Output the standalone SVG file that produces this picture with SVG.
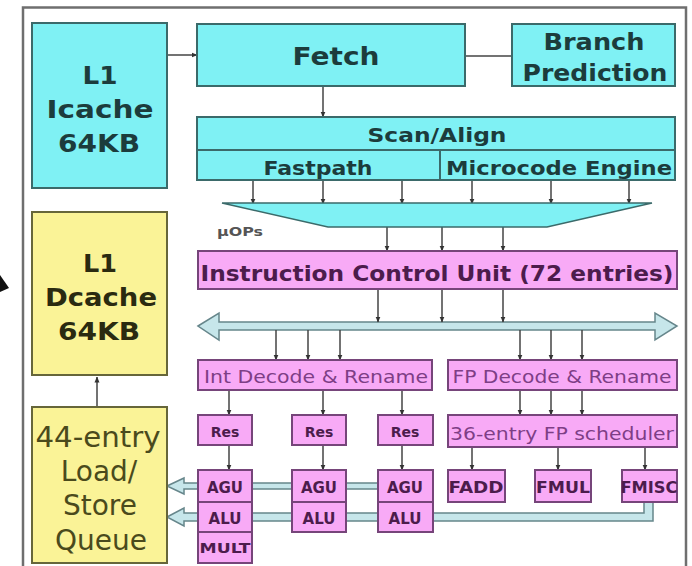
<svg xmlns="http://www.w3.org/2000/svg" width="692" height="566" viewBox="0 0 692 566">
<defs>
<marker id="ah" markerWidth="6" markerHeight="6" refX="5.5" refY="3" orient="auto" markerUnits="userSpaceOnUse">
<path d="M0,0.5 L6,3 L0,5.5 z" fill="#333"/>
</marker>
<style>
.cy{fill:#7ff1f4;stroke:#3b6a6a;stroke-width:2}
.ye{fill:#faf397;stroke:#66663a;stroke-width:2}
.pk{fill:#f8aaf6;stroke:#76457a;stroke-width:2}
.bus{fill:#c6e6ea;stroke:#66868b;stroke-width:1.5}
.ln{stroke:#444;stroke-width:1.5;fill:none}
.ar{stroke:#444;stroke-width:1.5;fill:none;marker-end:url(#ah)}
text{font-family:"DejaVu Sans","Liberation Sans",sans-serif;text-anchor:middle}
.tc{fill:#1c3c3c;font-weight:bold}
.ty{fill:#2a2a10;font-weight:bold}
.tq{fill:#4a4a1c;font-size:28px}
.tp{fill:#4c1c4c;font-weight:bold}
.tn{fill:#7e3e86;font-size:18px}
</style>
</defs>
<rect x="0" y="0" width="692" height="566" fill="#fff"/>
<path d="M23,566 V7.5 H686 V566" fill="none" stroke="#6f6f6f" stroke-width="2.5"/>
<polygon points="0,275 9,288 0,292" fill="#111"/>

<g id="buses">
<polygon class="bus" points="198,326 219,313 219,322 655,322 655,313 677,326 655,340 655,330 219,330 219,340"/>
<polygon class="bus" points="167,486 184,478 184,483 380,483 380,489 184,489 184,494"/>
<polygon class="bus" points="167,517 184,508 184,513 644,513 644,502 653,502 653,521 184,521 184,526"/>
</g>

<g id="connectors">
<line class="ar" x1="167" y1="55" x2="197" y2="55"/>
<line class="ln" x1="465" y1="56" x2="512" y2="56"/>
<line class="ar" x1="323" y1="86" x2="323" y2="117"/>
<line class="ar" x1="253" y1="180" x2="253" y2="204"/>
<line class="ar" x1="323" y1="180" x2="323" y2="204"/>
<line class="ar" x1="402" y1="180" x2="402" y2="204"/>
<line class="ar" x1="472" y1="180" x2="472" y2="204"/>
<line class="ar" x1="551" y1="180" x2="551" y2="204"/>
<line class="ar" x1="629" y1="180" x2="629" y2="204"/>
<line class="ar" x1="387" y1="227" x2="387" y2="251"/>
<line class="ar" x1="442" y1="227" x2="442" y2="251"/>
<line class="ar" x1="503" y1="227" x2="503" y2="251"/>
<line class="ar" x1="378" y1="289" x2="378" y2="322"/>
<line class="ar" x1="442" y1="289" x2="442" y2="322"/>
<line class="ar" x1="503" y1="289" x2="503" y2="322"/>
<line class="ar" x1="276" y1="330" x2="276" y2="360"/>
<line class="ar" x1="308" y1="330" x2="308" y2="360"/>
<line class="ar" x1="340" y1="330" x2="340" y2="360"/>
<line class="ar" x1="520" y1="330" x2="520" y2="360"/>
<line class="ar" x1="551" y1="330" x2="551" y2="360"/>
<line class="ar" x1="582" y1="330" x2="582" y2="360"/>
<line class="ar" x1="229" y1="390" x2="229" y2="415"/>
<line class="ar" x1="323" y1="390" x2="323" y2="415"/>
<line class="ar" x1="402" y1="390" x2="402" y2="415"/>
<line class="ar" x1="520" y1="390" x2="520" y2="415"/>
<line class="ar" x1="551" y1="390" x2="551" y2="415"/>
<line class="ar" x1="582" y1="390" x2="582" y2="415"/>
<line class="ar" x1="229" y1="445" x2="229" y2="470"/>
<line class="ar" x1="323" y1="445" x2="323" y2="470"/>
<line class="ar" x1="402" y1="445" x2="402" y2="470"/>
<line class="ar" x1="472" y1="447" x2="472" y2="470"/>
<line class="ar" x1="558" y1="447" x2="558" y2="470"/>
<line class="ar" x1="645" y1="447" x2="645" y2="470"/>
<line class="ar" x1="97" y1="407" x2="97" y2="377"/>
</g>

<g id="icache">
<rect class="cy" x="32" y="23" width="135" height="165"/>
<text class="tc" x="100" y="84" font-size="25" textLength="35" lengthAdjust="spacingAndGlyphs">L1</text>
<text class="tc" x="100" y="118" font-size="25" textLength="107" lengthAdjust="spacingAndGlyphs">Icache</text>
<text class="tc" x="99" y="152" font-size="25" textLength="82" lengthAdjust="spacingAndGlyphs">64KB</text>
</g>
<g id="fetch">
<rect class="cy" x="197" y="24" width="268" height="62"/>
<text class="tc" x="336" y="65" font-size="24" textLength="87" lengthAdjust="spacingAndGlyphs">Fetch</text>
</g>
<g id="branch">
<rect class="cy" x="512" y="24" width="163" height="62"/>
<text class="tc" x="594" y="50" font-size="23" textLength="101" lengthAdjust="spacingAndGlyphs">Branch</text>
<text class="tc" x="595" y="81" font-size="23" textLength="145" lengthAdjust="spacingAndGlyphs">Prediction</text>
</g>
<g id="scanalign">
<rect class="cy" x="197" y="117" width="478" height="33"/>
<text class="tc" x="437" y="142" font-size="20" textLength="139" lengthAdjust="spacingAndGlyphs">Scan/Align</text>
</g>
<g id="fastpath">
<rect class="cy" x="197" y="150" width="243" height="30"/>
<text class="tc" x="318" y="175" font-size="20" textLength="109" lengthAdjust="spacingAndGlyphs">Fastpath</text>
</g>
<g id="microcode">
<rect class="cy" x="440" y="150" width="235" height="30"/>
<text class="tc" x="559" y="175" font-size="20" textLength="226" lengthAdjust="spacingAndGlyphs">Microcode Engine</text>
</g>
<g id="uops">
<polygon points="222,203 652,203 547,227 328,227" fill="#7ff1f4" stroke="#3b6a6a" stroke-width="1.5"/>
<text x="240" y="236" font-size="12" font-weight="bold" fill="#555" textLength="46" lengthAdjust="spacingAndGlyphs">μOPs</text>
</g>
<g id="dcache">
<rect class="ye" x="32" y="212" width="135" height="163"/>
<text class="ty" x="100" y="272" font-size="25" textLength="34" lengthAdjust="spacingAndGlyphs">L1</text>
<text class="ty" x="101" y="306" font-size="25" textLength="112" lengthAdjust="spacingAndGlyphs">Dcache</text>
<text class="ty" x="99" y="340" font-size="25" textLength="82" lengthAdjust="spacingAndGlyphs">64KB</text>
</g>
<g id="icu">
<rect class="pk" x="198" y="251" width="479" height="38"/>
<text class="tp" x="437" y="281" font-size="22" textLength="473" lengthAdjust="spacingAndGlyphs">Instruction Control Unit (72 entries)</text>
</g>
<g id="intdecode">
<rect class="pk" x="198" y="360" width="234" height="30"/>
<text class="tn" x="316" y="383" textLength="224" lengthAdjust="spacingAndGlyphs">Int Decode &amp; Rename</text>
</g>
<g id="fpdecode">
<rect class="pk" x="448" y="360" width="229" height="30"/>
<text class="tn" x="562" y="383" textLength="219" lengthAdjust="spacingAndGlyphs">FP Decode &amp; Rename</text>
</g>
<g id="res1">
<rect class="pk" x="198" y="415" width="54" height="30"/>
<text class="tp" x="225" y="437" font-size="14">Res</text>
</g>
<g id="res2">
<rect class="pk" x="292" y="415" width="54" height="30"/>
<text class="tp" x="319" y="437" font-size="14">Res</text>
</g>
<g id="res3">
<rect class="pk" x="378" y="415" width="55" height="30"/>
<text class="tp" x="405" y="437" font-size="14">Res</text>
</g>
<g id="fpsched">
<rect class="pk" x="448" y="415" width="229" height="32"/>
<text class="tn" x="562" y="440" textLength="224" lengthAdjust="spacingAndGlyphs">36-entry FP scheduler</text>
</g>
<g id="lsq">
<rect class="ye" x="32" y="407" width="135" height="156"/>
<text class="tq" x="98" y="447" textLength="125" lengthAdjust="spacingAndGlyphs">44-entry</text>
<text class="tq" x="99" y="481">Load/</text>
<text class="tq" x="100" y="515">Store</text>
<text class="tq" x="101" y="550">Queue</text>
</g>
<g id="exec1">
<rect class="pk" x="198" y="470" width="54" height="32"/>
<text class="tp" x="225" y="493" font-size="15">AGU</text>
<rect class="pk" x="198" y="502" width="54" height="30"/>
<text class="tp" x="225" y="524" font-size="15">ALU</text>
<rect class="pk" x="198" y="532" width="54" height="31"/>
<text class="tp" x="225" y="553" font-size="14" textLength="51" lengthAdjust="spacingAndGlyphs">MULT</text>
</g>
<g id="exec2">
<rect class="pk" x="292" y="470" width="54" height="32"/>
<text class="tp" x="319" y="493" font-size="15">AGU</text>
<rect class="pk" x="292" y="502" width="54" height="30"/>
<text class="tp" x="319" y="524" font-size="15">ALU</text>
</g>
<g id="exec3">
<rect class="pk" x="378" y="470" width="55" height="32"/>
<text class="tp" x="405" y="493" font-size="15">AGU</text>
<rect class="pk" x="378" y="502" width="55" height="30"/>
<text class="tp" x="405" y="524" font-size="15">ALU</text>
</g>
<g id="fadd">
<rect class="pk" x="448" y="470" width="57" height="32"/>
<text class="tp" x="476" y="493" font-size="15" textLength="55" lengthAdjust="spacingAndGlyphs">FADD</text>
</g>
<g id="fmul">
<rect class="pk" x="535" y="470" width="56" height="32"/>
<text class="tp" x="563" y="493" font-size="15" textLength="54" lengthAdjust="spacingAndGlyphs">FMUL</text>
</g>
<g id="fmisc">
<rect class="pk" x="622" y="470" width="55" height="32"/>
<text class="tp" x="649" y="493" font-size="15" textLength="57" lengthAdjust="spacingAndGlyphs">FMISC</text>
</g>
</svg>
